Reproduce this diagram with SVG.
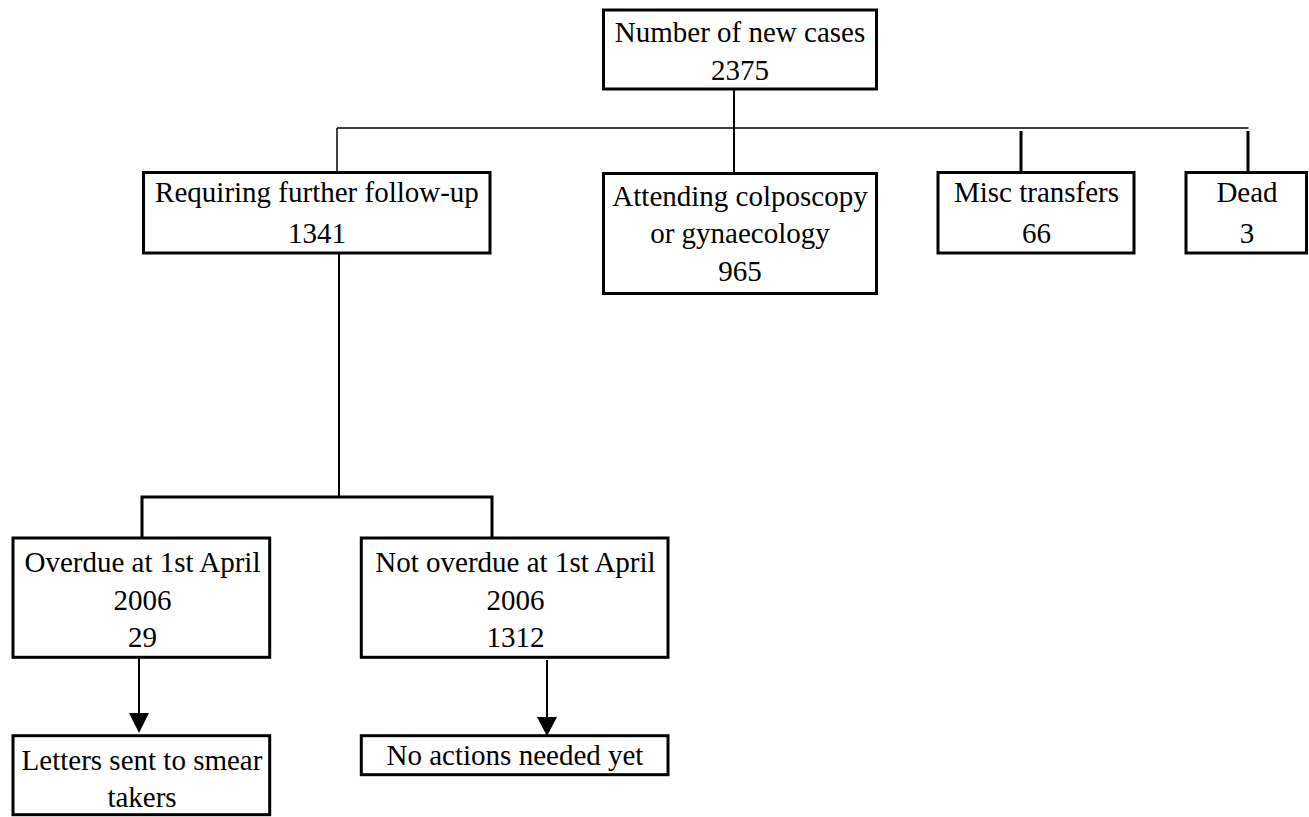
<svg xmlns="http://www.w3.org/2000/svg" width="1309" height="817" viewBox="0 0 1309 817">
<style>
.box{fill:#fff;stroke:#000;stroke-width:3}
.thin{stroke:#000;stroke-width:1.5;fill:none}
.med{stroke:#000;stroke-width:2;fill:none}
.thick{stroke:#000;stroke-width:3;fill:none}
</style>
<rect width="1309" height="817" fill="#fff"/>
<g id="connectors">
<line class="med" x1="734" y1="90" x2="734" y2="172"/>
<line class="thin" x1="337" y1="128" x2="1248.5" y2="128"/>
<line class="thin" x1="337" y1="128" x2="337" y2="171"/>
<line class="thick" x1="1021" y1="131" x2="1021" y2="171"/>
<line class="thick" x1="1248" y1="131" x2="1248" y2="171"/>
<line class="med" x1="339" y1="254" x2="339" y2="497"/>
<path class="thick" d="M142,539 V497 H492 V538"/>
<line class="med" x1="139" y1="658" x2="139" y2="714"/>
<polygon points="129,713 149,713 139,733" fill="#000"/>
<line class="med" x1="547" y1="660" x2="547" y2="718"/>
<polygon points="537,717 557,717 547,736" fill="#000"/>
</g>
<g font-family="'Liberation Serif', 'Times New Roman', Times, serif" font-size="29" text-anchor="middle" fill="#000">
<g id="n-new">
<rect class="box" x="603.5" y="10" width="273" height="79"/>
<text x="740" y="42">Number of new cases</text>
<text x="740" y="80">2375</text>
</g>
<g id="n-followup">
<rect class="box" x="143.5" y="172.5" width="346.5" height="80.5"/>
<text x="317" y="202">Requiring further follow-up</text>
<text x="317" y="243">1341</text>
</g>
<g id="n-attending">
<rect class="box" x="603.5" y="173.5" width="273" height="120"/>
<text x="740" y="206">Attending colposcopy</text>
<text x="740" y="243">or gynaecology</text>
<text x="740" y="281">965</text>
</g>
<g id="n-misc">
<rect class="box" x="938" y="172.5" width="196" height="80.5"/>
<text x="1036.5" y="202">Misc transfers</text>
<text x="1036.5" y="243">66</text>
</g>
<g id="n-dead">
<rect class="box" x="1186" y="172.5" width="120.5" height="80.5"/>
<text x="1247" y="202">Dead</text>
<text x="1247" y="243">3</text>
</g>
<g id="n-overdue">
<rect class="box" x="13" y="538" width="256.7" height="119.3"/>
<text x="142.5" y="572">Overdue at 1st April</text>
<text x="142.5" y="610">2006</text>
<text x="142.5" y="647">29</text>
</g>
<g id="n-notoverdue">
<rect class="box" x="361.3" y="538" width="306.7" height="119.3"/>
<text x="515.5" y="572">Not overdue at 1st April</text>
<text x="515.5" y="610">2006</text>
<text x="515.5" y="647">1312</text>
</g>
<g id="n-letters">
<rect class="box" x="13" y="735.7" width="256.7" height="79"/>
<text x="142" y="770">Letters sent to smear</text>
<text x="142" y="807">takers</text>
</g>
<g id="n-noaction">
<rect class="box" x="361.3" y="735.7" width="306.7" height="39"/>
<text x="515" y="765">No actions needed yet</text>
</g>
</g>
</svg>
